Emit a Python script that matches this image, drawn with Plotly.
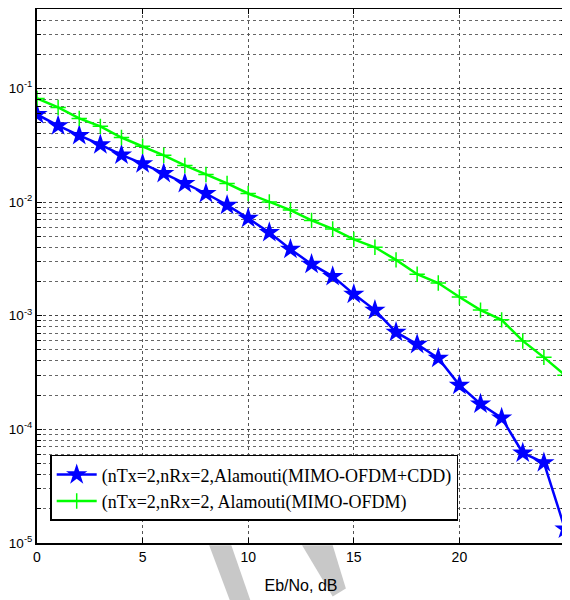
import plotly.graph_objects as go

ebno = list(range(0, 26))
ber_cdd = [0.059, 0.047, 0.0386, 0.032, 0.026, 0.0218, 0.0179, 0.0146, 0.0119, 0.0094,
           0.0072, 0.0054, 0.00385, 0.00284, 0.00222, 0.00155, 0.00112, 0.000716, 0.00056,
           0.000422, 0.000245, 0.000167, 0.000126, 6.2e-5, 5.1e-5, 1.33e-5]
ber_ofdm = [0.0817, 0.068, 0.0545, 0.0464, 0.037, 0.031, 0.0258, 0.021, 0.0175, 0.0146,
            0.0119, 0.0100, 0.0085, 0.0069, 0.0058, 0.0047, 0.0040, 0.0031, 0.00232,
            0.00194, 0.00146, 0.00112, 0.00092, 0.0006, 0.00043, 0.0003]
name_cdd = "(nTx=2,nRx=2,Alamouti(MIMO-OFDM+CDD)"
name_ofdm = "(nTx=2,nRx=2, Alamouti(MIMO-OFDM)"
x_ticks = [0, 5, 10, 15, 20, 25]
y_ticks = [1e-5, 1e-4, 1e-3, 1e-2, 1e-1]
y_ticktext = ["10<sup>-5</sup>", "10<sup>-4</sup>", "10<sup>-3</sup>", "10<sup>-2</sup>", "10<sup>-1</sup>"]
y_minor = [m * d for d in [1e-5, 1e-4, 1e-3, 1e-2, 1e-1] for m in range(2, 10) if m * d <= 0.5]
x_title = "Eb/No, dB"

fig = go.Figure()
fig.add_trace(go.Scatter(x=ebno, y=ber_cdd, mode="lines+markers", name=name_cdd,
                         line=dict(color="#0000ff", width=2.5),
                         marker=dict(symbol="star", size=16, color="#0000ff")))
fig.add_trace(go.Scatter(x=ebno, y=ber_ofdm, mode="lines+markers", name=name_ofdm,
                         line=dict(color="#00ff00", width=2.5),
                         marker=dict(symbol="cross-thin", size=11,
                                     line=dict(color="#00ff00", width=1.5))))

fig.update_xaxes(range=[0, 25], tickmode="array", tickvals=x_ticks, showgrid=True,
                 gridcolor="#555555", griddash="dot", gridwidth=1, showline=True,
                 linecolor="black", linewidth=2, mirror="ticks", ticks="inside",
                 ticklen=5, tickcolor="black", zeroline=False, automargin=False,
                 tickfont=dict(family="Liberation Sans", size=14, color="black"),
                 title=dict(text=x_title, font=dict(family="Liberation Sans", size=16, color="black"),
                            standoff=16))
fig.update_yaxes(type="log", range=[-5, -0.30103], tickmode="array", tickvals=y_ticks,
                 ticktext=y_ticktext, showgrid=True, gridcolor="#444444", griddash="dot",
                 gridwidth=1, showline=True, linecolor="black", linewidth=2, mirror="ticks",
                 ticks="inside", ticklen=5, tickcolor="black", automargin=False,
                 ticklabelstandoff=0,
                 tickfont=dict(family="Liberation Sans", size=13.5, color="black"),
                 minor=dict(tickmode="array", tickvals=y_minor, ticks="inside", ticklen=4,
                            tickcolor="black", showgrid=True, gridcolor="#666666",
                            griddash="dot", gridwidth=1))

# watermark (light gray, outside plot area)
wm = "#c8c8c8"
fig.add_shape(type="path", xref="paper", yref="paper", layer="below",
              path="M 0.326 -0.004 L 0.368 -0.004 L 0.404 -0.107 L 0.365 -0.107 Z",
              fillcolor=wm, line=dict(width=0))
fig.add_shape(type="path", xref="paper", yref="paper", layer="below",
              path="M 0.502 -0.004 L 0.560 -0.004 L 0.585 -0.085 L 0.560 -0.100 Z",
              fillcolor=wm, line=dict(width=0))
fig.add_shape(type="path", xref="paper", yref="paper", layer="below",
              path="M 1.002 0.49 L 1.01 0.55 L 1.01 0.20 L 1.002 0.30 Z",
              fillcolor=wm, line=dict(width=0))

fig.update_layout(
    width=562, height=592,
    margin=dict(l=29, r=5, t=1, b=57, autoexpand=False),
    paper_bgcolor="white", plot_bgcolor="white",
    showlegend=True,
    legend=dict(x=0.025, y=0.165, xanchor="left", yanchor="top",
                bgcolor="white", bordercolor="black", borderwidth=1.5,
                font=dict(family="Liberation Serif", size=18, color="black"),
                itemwidth=40, tracegroupgap=0),
)

fig.write_html("out.html")
